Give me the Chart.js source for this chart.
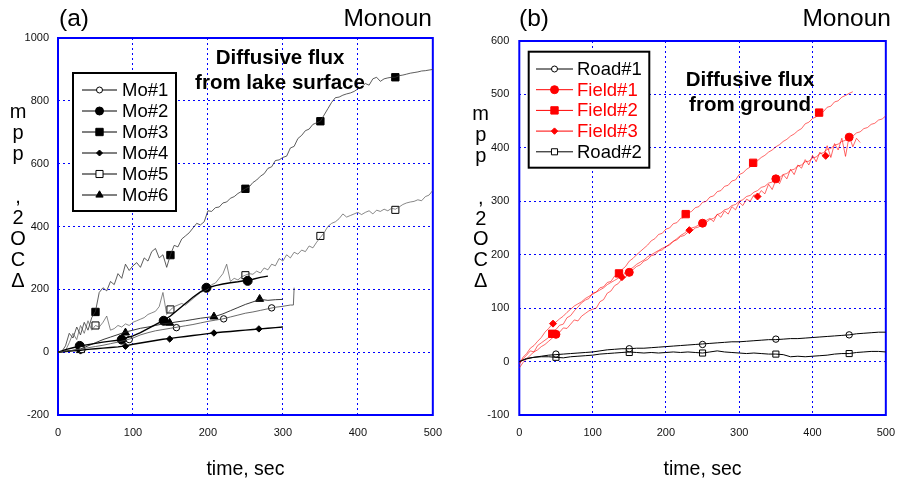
<!DOCTYPE html>
<html>
<head>
<meta charset="utf-8">
<script src="https://cdn.jsdelivr.net/npm/chart.js@4.4.1/dist/chart.umd.min.js"></script>
<style>
  html, body { margin:0; padding:0; background:#fff; }
  #wrap { position:relative; width:906px; height:485px; overflow:hidden; }
  canvas { position:absolute; top:0; }
  #chartA { left:0; }
  #chartB { left:453px; }
</style>
</head>
<body>
<div id="wrap">
  <canvas id="chartA" width="453" height="485"></canvas>
  <canvas id="chartB" width="453" height="485"></canvas>
</div>
<script>
// time grids (sec)
const steps = (dt, end) => Array.from({length: Math.round(end/dt)+1}, (_, i) => i*dt);
const t5 = steps(5, 500);
const t10 = steps(10, 500);

// ---- panel (a) : lake surface ----
const mo1T = [0,10,20,30,40,50,60,70,80,90,100,110,120,130,140,150,160,170,180,190,200,210,220,230,240,250,260,270,280,290,300,310,314,315];
const mo1Y = [0,3,6,10,14,18,22,27,32,38, 45,55,62,68,72,76,80,84,88,93, 98,102,106,112,118,124,128,133,138,143, 146,150,150,205];
const mo2Y = [0,8,14,20,24,28,32,35,38,45, 52,62,75,88,100,115,135,155,175,192, 205,212,217,221,224,228,232,238,242];
const mo3Y = [0,2,20,60,45,80,55,95,70,110, 130,190,205,195,225,215,250,235,280,260,
  275,285,270,300,290,320,330,300,310,270, 310,340,335,360,370,380,395,410,405,415,
  450,448,460,462,475,478,490,495,505,512, 520,526,540,548,560,568,585,590,610,612,
  620,624,650,655,680,690,705,710,725,730, 735,755,775,795,810,812,818,822,825,830,
  838,845,855,850,870,875,862,870,873,875, 875,880,882,885,888,890,892,895,896,898, 900];
const mo4Y = [0,2,4,6,9,11,13,15,17,20, 25,29,33,37,41,44,47,50,53,56, 59,62,64,66,68,70,72,74,76,78, 80];
const mo5Y = [0,0,5,30,60,40,85,60,100,70, 85,80,95,115,70,75,85,80,90,85,
  95,100,105,110,120,125,130,145,190,120, 135,145,150,155,150,160,170,180,190,195,
  200,215,220,235,250,280,225,235,230,240, 245,250,248,258,252,268,262,280,275,298,
  290,310,300,318,312,325,320,338,332,350, 365,380,400,410,415,425,440,430,435,440,
  445,438,445,450,440,452,448,455,450,458, 455,462,470,475,478,480,485,482,495,500, 515];
const mo6Y = [0,3,6,10,20,30,40,48,56,64, 70,76,80,85,90,93,97,100,104,108, 111,114,122,132,142,152,160,168,165,167, 168];

const mo1MX = [32,95,158,221,285],  mo1MY = [8,40,78,106,141];
const mo2MX = [29,85,141,198,253],  mo2MY = [20,40,100,205,227];
const mo3MX = [50,150,250,350,450], mo3MY = [128,309,520,735,875];
const mo4MX = [30,90,149,208,268],  mo4MY = [4,19,42,61,74];
const mo5MX = [50,150,250,350,450], mo5MY = [85,136,245,370,453];
const mo6MX = [30,90,149,208,269],  mo6MY = [6,62,93,113,169];

// ---- panel (b) : ground ----
const road1Y = [0,5,8,10,12,13,14,15,16,17, 18,20,22,23,24,24,25,25,26,27, 28,29,30,31,32,33,34,35,36,37,
  37,38,39,40,41,41,42,43,43,44, 45,46,47,48,49,50,52,53,54,55, 55];
const road2Y = [0,6,8,9,9,8,7,9,10,11, 12,14,15,16,17,18,17,16,17,16, 17,18,17,18,17,16,18,20,18,17,
  16,15,16,15,14,14,13,9,10,9, 10,11,12,14,15,15,17,18,19,19, 18];
const field1Y = [-12,-2,5,12,18,22,28,32,38,44, 50,55,63,62,70,78,76,85,90,95,
  98,100,112,116,128,132,142,146,155,158, 167,172,178,181,188,191,198,200,207,209,
  215,218,225,228,234,236,242,244,250,252, 259,260,266,268,275,278,284,286,292,294,
  300,303,309,311,317,320,326,328,334,336, 342,344,350,352,358,360,366,368,374,375,
  381,383,389,391,397,399,405,407,412,414, 420,422,428,430,436,438,444,446,452,454, 460];
const field2Y = [-5,5,12,20,18,30,35,40,45,52, 60,68,70,82,86,95,102,110,115,118,
  128,130,138,140,148,150,160,163,172,178, 188,193,200,206,212,218,226,230,238,240,
  248,250,258,260,268,270,278,281,288,290, 298,300,308,310,318,320,328,330,338,340,
  350,353,360,364,372,376,382,386,392,396, 402,406,412,416,422,426,432,436,445,448,
  455,458,466,468,476,478,486,488,495,498, 502,505];
const field3Y = [-5,8,15,25,30,38,45,55,62,70, 74,80,85,92,98,104,108,112,118,122,
  126,130,134,138,144,148,152,156,158,168, 172,176,182,186,190,196,200,204,208,212,
  215,220,225,230,236,240,246,250,252,256, 258,264,268,262,276,270,282,276,290,284,
  298,292,304,300,312,309,320,314,332,322, 340,333,350,342,360,350,368,362,378,368,
  386,374,392,385,404,382,408,396,418,384, 422,402,418,410];

const road1MX = [50,150,250,350,450],  road1MY = [14,24,32,42,50];
const road2MX = [50,150,250,350,450],  road2MY = [8,17,16,14,15];
const field1MX = [50,150,250,350,450], field1MY = [51,167,259,342,420];
const field2MX = [45,136,227,319,409], field2MY = [52,165,276,372,466];
const field3MX = [46,140,232,325,418], field3MY = [71,158,246,309,385];

const yTitleChars = ['m','p','p',' ',',','2','O','C','\u0394'];

const FONT = "'Liberation Sans', Arial, sans-serif";
const BLUE = '#0000ff';
const RED = '#ff0000';

function pts(xs, ys){ return ys.map((y, i) => ({x: xs[i], y})); }

function buildDatasets(series){
  const out = [];
  for (const s of series){
    out.push({ data: pts(s.t, s.y), showLine: true, borderColor: s.line, borderWidth: s.lw, pointRadius: 0, tension: 0 });
  }
  for (const s of series){
    out.push({ data: pts(s.mx, s.my), showLine: false, pointStyle: s.style, pointRadius: s.r, pointHoverRadius: s.r,
      pointBackgroundColor: s.fill, pointBorderColor: s.mark, pointBorderWidth: 1 });
  }
  return out;
}

function decorPlugin(p){
  return {
    id: 'decor',
    beforeDatasetsDraw(chart){
      const {ctx, chartArea: a} = chart;
      ctx.save();
      ctx.strokeStyle = BLUE;
      ctx.lineWidth = 2;
      ctx.strokeRect(a.left, a.top, a.right - a.left, a.bottom - a.top);
      ctx.restore();
    },
    afterDraw(chart){
      const {ctx, chartArea: a} = chart;
      ctx.save();
      // panel label + site
      ctx.fillStyle = '#000';
      ctx.font = '24.5px ' + FONT;
      ctx.textBaseline = 'middle';
      ctx.textAlign = 'left';
      ctx.fillText(p.tag, p.tagX, 19);
      ctx.textAlign = 'right';
      ctx.fillText('Monoun', p.siteX, 19);
      // x title
      ctx.font = '19.5px ' + FONT;
      ctx.textAlign = 'center';
      ctx.fillText('time, sec', (a.left + a.right) / 2, 470);
      // y title, stacked
      ctx.font = '20px ' + FONT;
      ctx.textBaseline = 'alphabetic';
      yTitleChars.forEach((c, i) => ctx.fillText(c, p.yTitleX, p.yTitleY0 + i * p.yTitleDy));
      // annotation
      ctx.font = 'bold 20.5px ' + FONT;
      ctx.textBaseline = 'middle';
      p.note.forEach((line, i) => ctx.fillText(line, p.noteX, p.noteY[i]));
      // legend
      const L = p.legend;
      ctx.fillStyle = '#fff';
      ctx.fillRect(L.x, L.y, L.w, L.h);
      ctx.strokeStyle = '#000';
      ctx.lineWidth = 2;
      ctx.strokeRect(L.x, L.y, L.w, L.h);
      ctx.font = '18.5px ' + FONT;
      ctx.textAlign = 'left';
      p.series.forEach((s, i) => {
        const y = L.row0 + i * L.dy;
        ctx.strokeStyle = s.legendLine;
        ctx.lineWidth = 1;
        ctx.beginPath(); ctx.moveTo(L.x1, y); ctx.lineTo(L.x2, y); ctx.stroke();
        ctx.fillStyle = s.fill;
        ctx.strokeStyle = s.mark;
        Chart.helpers.drawPoint(ctx, {pointStyle: s.style, radius: s.lr, rotation: 0, borderWidth: 1}, (L.x1 + L.x2) / 2, y);
        ctx.fillStyle = s.textColor;
        ctx.fillText(s.label, L.tx, y + 1);
      });
      ctx.restore();
    }
  };
}

function makeChart(id, p){
  const tickFont = {family: FONT, size: 11};
  return new Chart(document.getElementById(id), {
    type: 'scatter',
    data: { datasets: buildDatasets(p.series) },
    options: {
      responsive: false,
      animation: false,
      layout: { padding: { top: p.top, right: p.right, left: 0, bottom: 0 } },
      plugins: { legend: { display: false }, tooltip: { enabled: false } },
      scales: {
        x: {
          type: 'linear', min: 0, max: 500,
          ticks: { stepSize: 100, color: '#111', font: tickFont, padding: 11, maxRotation: 0, autoSkip: false,
                   callback: v => String(v) },
          grid: { color: BLUE, lineWidth: 1, drawTicks: false },
          border: { display: false, dash: [2, 3] },
          afterFit: s => { s.height = 70; }
        },
        y: {
          type: 'linear', min: p.yMin, max: p.yMax,
          ticks: { stepSize: p.yStep, color: '#111', font: tickFont, padding: p.yPad, autoSkip: false,
                   callback: v => String(v) },
          grid: { color: BLUE, lineWidth: 1, drawTicks: false },
          border: { display: false, dash: [2, 3] },
          afterFit: s => { s.width = p.yWidth; }
        }
      }
    },
    plugins: [decorPlugin(p)]
  });
}

const seriesA = [
  { label:'Mo#1', t:mo1T, y:mo1Y, mx:mo1MX, my:mo1MY, style:'circle',   r:3.2, lr:3,   fill:'#fff', mark:'#000', line:'#444', lw:0.8, legendLine:'#000', textColor:'#000' },
  { label:'Mo#2', t:t10,  y:mo2Y, mx:mo2MX, my:mo2MY, style:'circle',   r:4.5, lr:4,   fill:'#000', mark:'#000', line:'#000', lw:1.4, legendLine:'#000', textColor:'#000' },
  { label:'Mo#3', t:t5,   y:mo3Y, mx:mo3MX, my:mo3MY, style:'rect',     r:5.2, lr:5.2, fill:'#000', mark:'#000', line:'#333', lw:0.8, legendLine:'#000', textColor:'#000' },
  { label:'Mo#4', t:t10,  y:mo4Y, mx:mo4MX, my:mo4MY, style:'rectRot',  r:3.2, lr:3,   fill:'#000', mark:'#000', line:'#000', lw:1.4, legendLine:'#000', textColor:'#000' },
  { label:'Mo#5', t:t5,   y:mo5Y, mx:mo5MX, my:mo5MY, style:'rect',     r:5,   lr:5,   fill:'#fff', mark:'#000', line:'#555', lw:0.7, legendLine:'#000', textColor:'#000' },
  { label:'Mo#6', t:t10,  y:mo6Y, mx:mo6MX, my:mo6MY, style:'triangle', r:4.6, lr:4.2, fill:'#000', mark:'#000', line:'#222', lw:0.9, legendLine:'#000', textColor:'#000' }
];

const seriesB = [
  { label:'Road#1',  t:t10, y:road1Y,  mx:road1MX,  my:road1MY,  style:'circle',  r:3.2, lr:3,   fill:'#fff', mark:'#000', line:'#000', lw:1,   legendLine:'#000', textColor:'#000' },
  { label:'Field#1', t:t5,  y:field1Y, mx:field1MX, my:field1MY, style:'circle',  r:4,   lr:4,   fill:RED,    mark:RED,    line:RED,    lw:0.6, legendLine:RED,    textColor:RED },
  { label:'Field#2', t:t5,  y:field2Y, mx:field2MX, my:field2MY, style:'rect',    r:5.2, lr:5.2, fill:RED,    mark:RED,    line:RED,    lw:0.6, legendLine:RED,    textColor:RED },
  { label:'Field#3', t:t5,  y:field3Y, mx:field3MX, my:field3MY, style:'rectRot', r:3.5, lr:3.2, fill:RED,    mark:RED,    line:RED,    lw:0.6, legendLine:RED,    textColor:RED },
  { label:'Road#2',  t:t10, y:road2Y,  mx:road2MX,  my:road2MY,  style:'rect',    r:4.3, lr:4.3, fill:'#fff', mark:'#000', line:'#000', lw:1,   legendLine:'#000', textColor:'#000' }
];

makeChart('chartA', {
  series: seriesA, top: 38, right: 17, yWidth: 58, yPad: 9,
  yMin: -200, yMax: 1000, yStep: 200,
  tag: '(a)', tagX: 59, siteX: 432,
  yTitleX: 18, yTitleY0: 118.2, yTitleDy: 21.1,
  note: ['Diffusive flux', 'from lake surface'], noteX: 280, noteY: [58, 83],
  legend: { x: 73, y: 73, w: 103, h: 138, row0: 90, dy: 21, x1: 82, x2: 117, tx: 122 }
});

makeChart('chartB', {
  series: seriesB, top: 41, right: 11.7, yWidth: 66.3, yPad: 10,
  yMin: -100, yMax: 600, yStep: 100,
  tag: '(b)', tagX: 66, siteX: 438,
  yTitleX: 27.7, yTitleY0: 120, yTitleDy: 20.9,
  note: ['Diffusive flux', 'from ground'], noteX: 297, noteY: [80, 105],
  legend: { x: 75.7, y: 51.7, w: 120.6, h: 116, row0: 69, dy: 20.7, x1: 83, x2: 120, tx: 124 }
});
</script>
</body>
</html>
